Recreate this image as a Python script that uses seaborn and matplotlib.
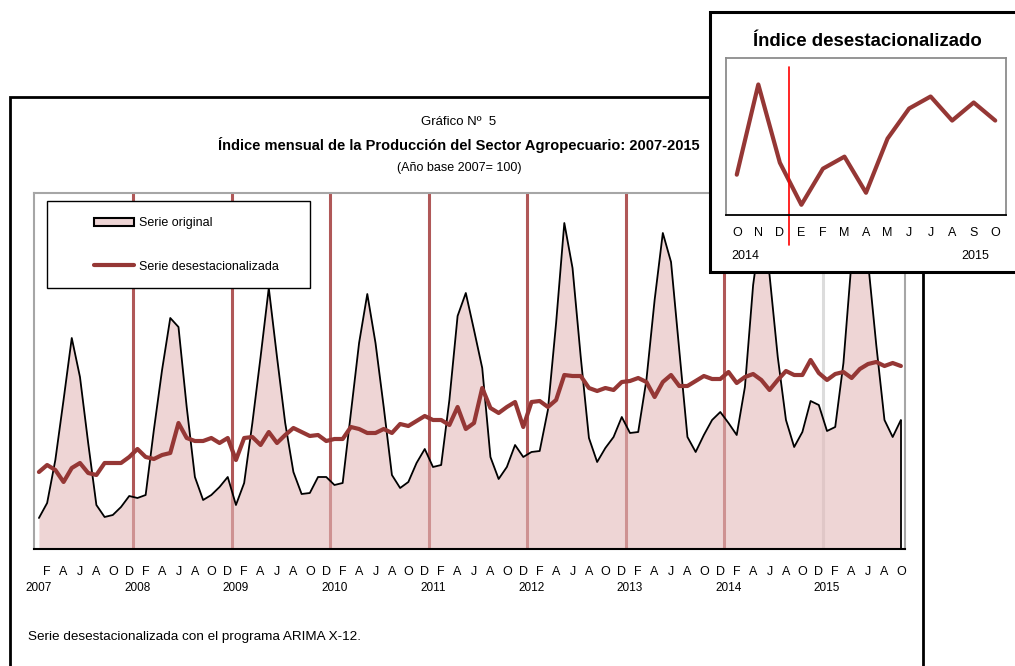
import numpy as np
import pandas as pd
import matplotlib
matplotlib.use('Agg')
import matplotlib.pyplot as plt
import matplotlib.transforms as mtransforms
from matplotlib.patches import Rectangle, Patch
from matplotlib.lines import Line2D
import seaborn as sns

# monthly index (2007=100), Jan 2007 - Oct 2015
original = [49, 64, 107, 167, 229, 190, 124, 62, 50, 52, 60, 71,
            69, 72, 137, 197, 249, 240, 160, 90, 67, 72, 80, 90,
            62, 84, 144, 210, 279, 210, 144, 95, 73, 74, 90, 90,
            82, 84, 154, 224, 273, 224, 160, 92, 79, 85, 104, 118,
            100, 102, 167, 251, 274, 237, 199, 110, 88, 100, 122, 110,
            115, 116, 157, 244, 344, 299, 210, 129, 105, 119, 130, 150,
            134, 135, 187, 267, 334, 305, 217, 130, 115, 132, 147, 155,
            144, 132, 180, 282, 342, 292, 210, 147, 120, 135, 166, 162,
            136, 140, 204, 307, 347, 305, 222, 147, 130, 147]
desestacionalizada = [95, 102, 97, 85, 99, 104, 94, 92, 104, 104, 104, 110,
                      118, 110, 108, 112, 114, 144, 129, 126, 126, 129, 124, 129,
                      107, 129, 130, 122, 135, 124, 132, 139, 135, 131, 132, 126,
                      128, 128, 140, 138, 134, 134, 138, 134, 143, 141, 146, 151,
                      147, 147, 142, 160, 138, 144, 179, 159, 154, 160, 165, 140,
                      165, 166, 160, 167, 192, 191, 191, 179, 176, 179, 177, 185,
                      186, 189, 185, 170, 185, 192, 181, 181, 186, 191, 188, 188,
                      195, 184, 190, 193, 187, 177, 187, 196, 192, 192, 207, 194,
                      187, 193, 195, 189, 198, 203, 205, 201, 204, 201]
years = list(range(2007, 2016))
month_letters = ['E', 'F', 'M', 'A', 'M', 'J', 'J', 'A', 'S', 'O', 'N', 'D']
inset_months = ['O', 'N', 'D', 'E', 'F', 'M', 'A', 'M', 'J', 'J', 'A', 'S', 'O']
inset_years = ['2014', '2015']

df = pd.DataFrame({'mes': np.arange(len(original)),
                   'original': original,
                   'desest': desestacionalizada})
df_inset = df.iloc[-13:].reset_index(drop=True)
df_inset['pos'] = np.arange(len(df_inset))

sns.set_theme(style='white')
plt.rcParams['font.family'] = ['Liberation Sans', 'DejaVu Sans']
plt.rcParams['text.color'] = 'black'
plt.rcParams['xtick.color'] = 'black'
plt.rcParams['axes.labelcolor'] = 'black'

RED = '#953735'
W, H = 1015, 666
fig = plt.figure(figsize=(W / 100, H / 100), dpi=100)


def fx(px):
    return px / W


def fy(py):
    return 1 - py / H


# main chart
ax = fig.add_axes([fx(34), fy(549), fx(905) - fx(34), fy(193) - fy(549)])
ax.set_xlim(-0.6, 105.5)
ax.set_ylim(18, 374)

for i, yr in enumerate(years[1:]):
    col = '#dcdcdc' if yr == 2015 else '#b05858'
    ax.axvline(12 * (i + 1) - 0.5, color=col, lw=2.2, zorder=1)

ax.fill_between(df['mes'], 18, df['original'], color='#e3b9b9', alpha=0.6, lw=0, zorder=2)
sns.lineplot(data=df, x='mes', y='original', color='black', lw=1.3, ax=ax, zorder=3)
ax.vlines(df['mes'].iloc[-1], 18, df['original'].iloc[-1], color='black', lw=1.3, zorder=3)
sns.lineplot(data=df, x='mes', y='desest', color=RED, lw=3, ax=ax, zorder=4)

ax.set_xticks(df['mes'][1::2])
ax.set_xticklabels([month_letters[k % 12] for k in df['mes'][1::2]])
ax.set_xticks(df['mes'], minor=True)
ax.tick_params(axis='x', which='major', length=0, pad=12, labelsize=9, labelcolor='black')
ax.tick_params(axis='x', which='minor', length=2.5, width=0.8, direction='in', color='black')
ax.set_yticks([])
ax.set_xlabel('')
ax.set_ylabel('')
trans = mtransforms.blended_transform_factory(ax.transData, ax.transAxes)
for i, yr in enumerate(years):
    ax.text(12 * i, -0.11, str(yr), transform=trans, ha='center', va='center', fontsize=8.5)

for s in ['left', 'top', 'right']:
    ax.spines[s].set_color('#a6a6a6')
    ax.spines[s].set_linewidth(1.5)
ax.spines['bottom'].set_color('black')
ax.spines['bottom'].set_linewidth(1.5)

# legend
box = Rectangle((fx(47), fy(288)), fx(310) - fx(47), fy(201) - fy(288), transform=fig.transFigure,
                facecolor='white', edgecolor='black', lw=1.0, zorder=5, clip_on=False)
ax.add_patch(box)
handles = [Patch(facecolor='#eed5d5', edgecolor='black', lw=1.5),
           Line2D([], [], color=RED, lw=3)]
leg = ax.legend(handles, ['Serie original', 'Serie desestacionalizada'], loc='upper left',
                bbox_to_anchor=(fx(88), fy(211)), bbox_transform=fig.transFigure,
                frameon=False, fontsize=9, borderpad=0, labelspacing=2.5,
                handlelength=3.2, handleheight=0.7, handletextpad=0.4)
leg.set_zorder(6)

# outer frame and titles
fig.patches.append(Rectangle((fx(10), -0.02), fx(923) - fx(10), fy(97) + 0.02, transform=fig.transFigure,
                             fill=False, edgecolor='black', lw=2, zorder=0.5))
fig.text(fx(459), fy(122), 'Gráfico Nº  5', ha='center', va='center', fontsize=9.5)
fig.text(fx(459), fy(145), 'Índice mensual de la Producción del Sector Agropecuario: 2007-2015',
         ha='center', va='center', fontsize=10.5, fontweight='bold')
fig.text(fx(459), fy(168), '(Año base 2007= 100)', ha='center', va='center', fontsize=9)
fig.text(fx(28), fy(637), 'Serie desestacionalizada con el programa ARIMA X-12.',
         ha='left', va='center', fontsize=9.7)

# inset
fig.patches.append(Rectangle((fx(710), fy(272)), fx(1020) - fx(710), fy(12) - fy(272),
                             transform=fig.transFigure, facecolor='white', edgecolor='black',
                             lw=2.2, zorder=1.5))
axi = fig.add_axes([fx(726), fy(215), fx(1006) - fx(726), fy(58) - fy(215)], zorder=2)
sns.lineplot(data=df_inset, x='pos', y='desest', color=RED, lw=3, ax=axi)
axi.set_xlim(-0.5, 12.5)
axi.set_ylim(185.3, 211.4)
axi.set_yticks([])
axi.set_xticks(df_inset['pos'])
axi.set_xticklabels(inset_months)
axi.set_xticks(np.arange(-0.5, 13, 1), minor=True)
axi.tick_params(axis='x', which='major', length=0, pad=9, labelsize=9, labelcolor='black')
axi.tick_params(axis='x', which='minor', length=4, width=0.8, direction='out', color='black')
axi.set_xlabel('')
axi.set_ylabel('')
axi.axvline(2.42, ymin=-0.19, ymax=0.943, color='red', lw=1.2, clip_on=False)
for s in ['left', 'top', 'right']:
    axi.spines[s].set_color('#8c8c8c')
    axi.spines[s].set_linewidth(1.3)
axi.spines['bottom'].set_color('black')
axi.spines['bottom'].set_linewidth(1.3)
fig.text(fx(745), fy(256), inset_years[0], ha='center', va='center', fontsize=9)
fig.text(fx(975), fy(256), inset_years[1], ha='center', va='center', fontsize=9)
fig.text(fx(867), fy(42), 'Índice desestacionalizado', ha='center', va='center',
         fontsize=13.4, fontweight='bold', zorder=3)

fig.savefig('out.png', dpi=100)
